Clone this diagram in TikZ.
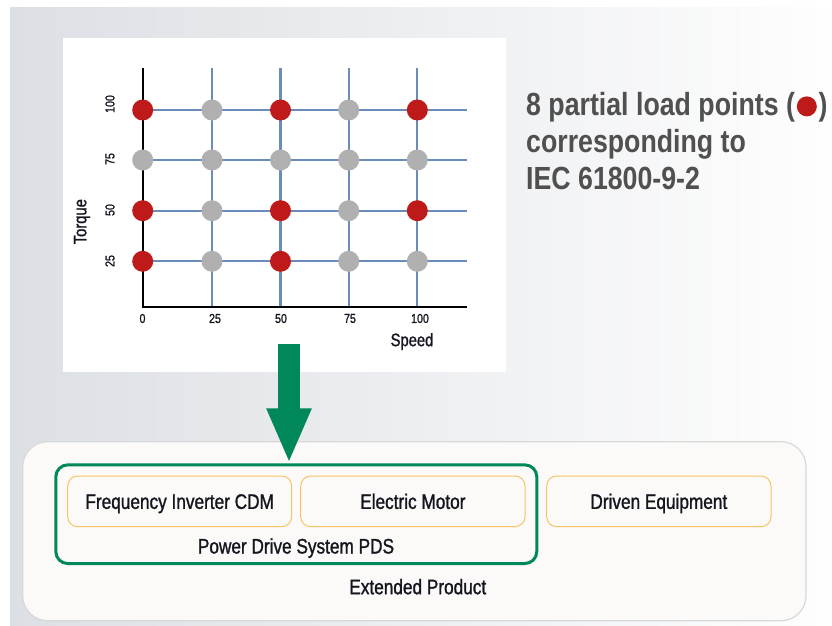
\documentclass[tikz,border=0pt]{standalone}
\usepackage{fontspec}
\setmainfont{Liberation Sans}[FakeStretch=0.82,RawFeature={embolden=1.2}]
\newfontfamily\titlefont{Liberation Sans Bold}[FakeStretch=0.835]
\usetikzlibrary{arrows.meta}
\definecolor{gridblue}{HTML}{6A8CBB}
\definecolor{ptred}{HTML}{BE1A1A}
\definecolor{ptgray}{HTML}{B0B0B0}
\definecolor{pdsgreen}{HTML}{00875A}
\definecolor{boxorange}{HTML}{F8C463}
\definecolor{outerline}{HTML}{D8D8D8}
\definecolor{outerfill}{HTML}{FBFAF8}
\definecolor{bgleft}{HTML}{DCDFE4}
\definecolor{bgright}{HTML}{FEFEFE}
\definecolor{titlegray}{HTML}{505050}
\definecolor{labelink}{HTML}{15151F}
\begin{document}
\begin{tikzpicture}[x=1pt,y=-1pt,
  redpt/.style={circle,fill=ptred,minimum size=21pt,inner sep=0pt},
  graypt/.style={circle,fill=ptgray,minimum size=21pt,inner sep=0pt},
  gridline/.style={draw=gridblue,line width=2.3pt},
  axisline/.style={draw=black,line width=2pt},
  ticklabel/.style={font=\fontsize{13}{14}\selectfont,text=labelink,inner sep=0pt},
  axislabel/.style={font=\fontsize{18}{20}\selectfont,text=labelink,inner sep=0pt},
  unitbox/.style={draw=boxorange,line width=1pt,rounded corners=10pt,minimum height=50.7pt,
     font=\fontsize{21}{24}\selectfont,text=labelink,text height=15pt,text depth=0pt},
  boxlabel/.style={font=\fontsize{21}{24}\selectfont,text=labelink,inner sep=0pt,text height=15pt,text depth=0pt},
  titleline/.style={font=\titlefont\fontsize{32}{36}\selectfont,text=titlegray,inner sep=0pt,anchor=base west}]
\useasboundingbox (0,0) rectangle (832,626);
% background
\shade[left color=bgleft,right color=bgright] (10,8) rectangle (832,626);
% chart panel
\fill[white] (63,38) rectangle (506,372);
% grid
\foreach \x in {212,280.5,348.7,417.3}{\draw[gridline] (\x,68) -- (\x,306.7);}
\foreach \y in {110,160,210.7,261.3}{\draw[gridline] (142.7,\y) -- (466.7,\y);}
\draw[axisline] (142.7,68) -- (142.7,307.7);
\draw[axisline] (141.7,306.7) -- (466.7,306.7);
% points
\node[redpt]  (p0-100)  at (142.7,110) {};
\node[graypt] (p25-100) at (212,110) {};
\node[redpt]  (p50-100) at (280.5,110) {};
\node[graypt] (p75-100) at (348.7,110) {};
\node[redpt]  (p100-100) at (417.3,110) {};
\node[graypt] (p0-75)  at (142.7,160) {};
\node[graypt] (p25-75) at (212,160) {};
\node[graypt] (p50-75) at (280.5,160) {};
\node[graypt] (p75-75) at (348.7,160) {};
\node[graypt] (p100-75) at (417.3,160) {};
\node[redpt]  (p0-50)  at (142.7,210.7) {};
\node[graypt] (p25-50) at (212,210.7) {};
\node[redpt]  (p50-50) at (280.5,210.7) {};
\node[graypt] (p75-50) at (348.7,210.7) {};
\node[redpt]  (p100-50) at (417.3,210.7) {};
\node[redpt]  (p0-25)  at (142.7,261.3) {};
\node[graypt] (p25-25) at (212,261.3) {};
\node[redpt]  (p50-25) at (280.5,261.3) {};
\node[graypt] (p75-25) at (348.7,261.3) {};
\node[graypt] (p100-25) at (417.3,261.3) {};
% tick labels
\node[ticklabel] (tx0) at (142.5,318.5) {0};
\node[ticklabel] (tx25) at (215,318.5) {25};
\node[ticklabel] (tx50) at (281,318.5) {50};
\node[ticklabel] (tx75) at (350,318.5) {75};
\node[ticklabel] (tx100) at (420,318.5) {100};
\node[ticklabel,rotate=90] (ty100) at (110,104) {100};
\node[ticklabel,rotate=90] (ty75) at (110,159) {75};
\node[ticklabel,rotate=90] (ty50) at (110,210) {50};
\node[ticklabel,rotate=90] (ty25) at (110,261) {25};
\node[axislabel] (speed) at (412,341.5) {Speed};
\node[axislabel,rotate=90] (torque) at (82,221.7) {Torque};
% title
\node[titleline] (title1) at (526,115) {8 partial load points (};
\node[circle,fill=ptred,minimum size=20pt,inner sep=0pt,anchor=west] (tdot) at ([xshift=1.5pt,yshift=8.6pt]title1.base east) {};
\node[titleline] (title1b) at ([xshift=1.5pt]tdot.east |- title1.base) {)};
\node[titleline] (title2) at (526,152) {corresponding to};
\node[titleline] (title3) at (526,189.5) {IEC 61800-9-2};
% lower boxes
\node[draw=outerline,fill=outerfill,line width=1.2pt,rounded corners=25pt,minimum width=783.3pt,minimum height=179pt] (extended) at (414.35,531.2) {};
\node[draw=pdsgreen,line width=3pt,rounded corners=12pt,minimum width=481pt,minimum height=98.7pt] (pds) at (296.3,514.2) {};
\node[unitbox,minimum width=224pt] (cdm) at (179.7,501.35) {Frequency Inverter CDM};
\node[unitbox,minimum width=224.3pt] (motor) at (412.85,501.35) {Electric Motor};
\node[unitbox,minimum width=224.3pt] (driven) at (658.85,501.35) {Driven Equipment};
\node[boxlabel] (pdslabel) at (296,546) {Power Drive System PDS};
\node[boxlabel] (extlabel) at (417.8,586.7) {Extended Product};
% arrow
\coordinate (arrowstart) at (289,344.3);
\draw[pdsgreen,line width=22.3pt,-{Triangle[width=41pt,length=55pt]}] (arrowstart) -- (arrowstart |- pds.north);
\end{tikzpicture}
\end{document}
